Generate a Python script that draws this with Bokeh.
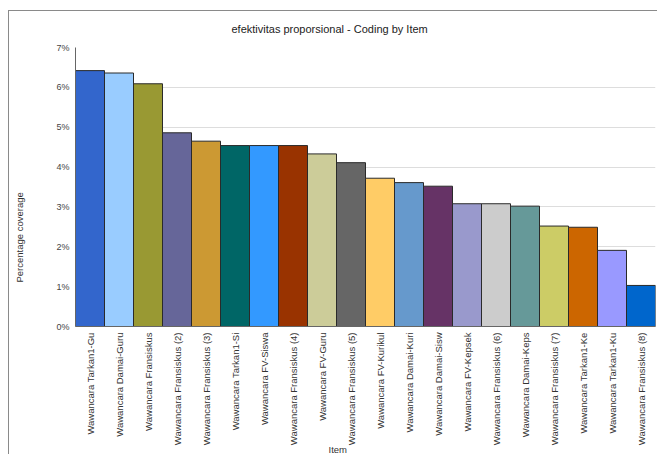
from bokeh.plotting import figure
from bokeh.models import ColumnDataSource, Title, PrintfTickFormatter, FixedTicker
from bokeh.embed import file_html
from bokeh.resources import INLINE
from math import pi

items = [
    "Wawancara Tarkan1-Gu", "Wawancara Damai-Guru", "Wawancara Fransiskus",
    "Wawancara Fransiskus (2)", "Wawancara Fransiskus (3)", "Wawancara Tarkan1-Si",
    "Wawancara FV-Siswa", "Wawancara Fransiskus (4)", "Wawancara FV-Guru",
    "Wawancara Fransiskus (5)", "Wawancara FV-Kurikul", "Wawancara Damai-Kuri",
    "Wawancara Damai-Sisw", "Wawancara FV-Kepsek", "Wawancara Fransiskus (6)",
    "Wawancara Damai-Keps", "Wawancara Fransiskus (7)", "Wawancara Tarkan1-Ke",
    "Wawancara Tarkan1-Ku", "Wawancara Fransiskus (8)",
]
coverage = [6.42, 6.36, 6.09, 4.86, 4.65, 4.54, 4.54, 4.54, 4.33, 4.11,
            3.72, 3.61, 3.52, 3.08, 3.08, 3.02, 2.52, 2.49, 1.91, 1.03]
colors = ["#3366CC", "#99CCFF", "#999933", "#666699", "#CC9933", "#006666",
          "#3399FF", "#993300", "#CCCC99", "#666666", "#FFCC66", "#6699CC",
          "#663366", "#9999CC", "#CCCCCC", "#669999", "#CCCC66", "#CC6600",
          "#9999FF", "#0066CC"]
y_ticks = [0, 1, 2, 3, 4, 5, 6, 7]

title_text = "efektivitas proporsional - Coding by Item"
y_label = "Percentage coverage"
x_label = "Item"

src = ColumnDataSource(dict(item=items, cov=coverage, color=colors))

p = figure(x_range=items, y_range=(0, 7), width=649, height=444,
           output_backend="svg", toolbar_location=None,
           min_border_left=66, min_border_right=3, min_border_top=35,
           min_border_bottom=129, margin=(10, 0, 0, 8))
p.styles = {"border-top": "1px solid #8a8a8a", "border-left": "1px solid #8a8a8a"}
p.outline_line_color = None
p.vbar(x="item", top="cov", width=1.0, bottom=0, source=src,
       fill_color="color", line_color="#2a2a2a", line_width=1)

p.xgrid.grid_line_color = None
p.ygrid.grid_line_color = "#dddddd"
p.ygrid.grid_line_width = 1

p.yaxis.ticker = FixedTicker(ticks=y_ticks)
p.yaxis.formatter = PrintfTickFormatter(format="%d%%")
p.yaxis.minor_tick_line_color = None
p.yaxis.major_tick_out = 0
p.yaxis.major_tick_in = 0
p.yaxis.axis_line_color = "#666666"
p.yaxis.major_label_text_font = "Liberation Sans"
p.yaxis.major_label_text_font_size = "9px"
p.yaxis.major_label_text_color = "#444444"
p.yaxis.major_label_standoff = 6

p.xaxis.major_label_orientation = pi / 2
p.xaxis.major_tick_out = 0
p.xaxis.major_tick_in = 0
p.xaxis.axis_line_color = "#666666"
p.xaxis.major_label_text_font = "Liberation Sans"
p.xaxis.major_label_text_font_size = "9.5px"
p.xaxis.major_label_text_color = "#333333"
p.xaxis.major_label_standoff = 6

p.title.text = title_text
p.title.align = "left"
p.title.offset = 156
p.title.vertical_align = "top"
p.title.text_font = "Liberation Sans"
p.title.text_font_size = "11px"
p.title.text_font_style = "normal"
p.title.text_color = "#222222"
p.title.standoff = 22

# spacer between the y axis and its title
p.add_layout(Title(text=" ", standoff=26, text_font_size="1px"), "left")
p.add_layout(Title(text=y_label, align="left", offset=44, standoff=0,
                   text_font="Liberation Sans", text_font_size="9.5px",
                   text_font_style="normal", text_color="#333333"), "left")
p.add_layout(Title(text=x_label, align="left", offset=253, standoff=-10,
                   vertical_align="top",
                   text_font="Liberation Sans", text_font_size="9.5px",
                   text_font_style="normal", text_color="#333333"), "below")

open("out.html", "w").write(file_html(p, INLINE))
